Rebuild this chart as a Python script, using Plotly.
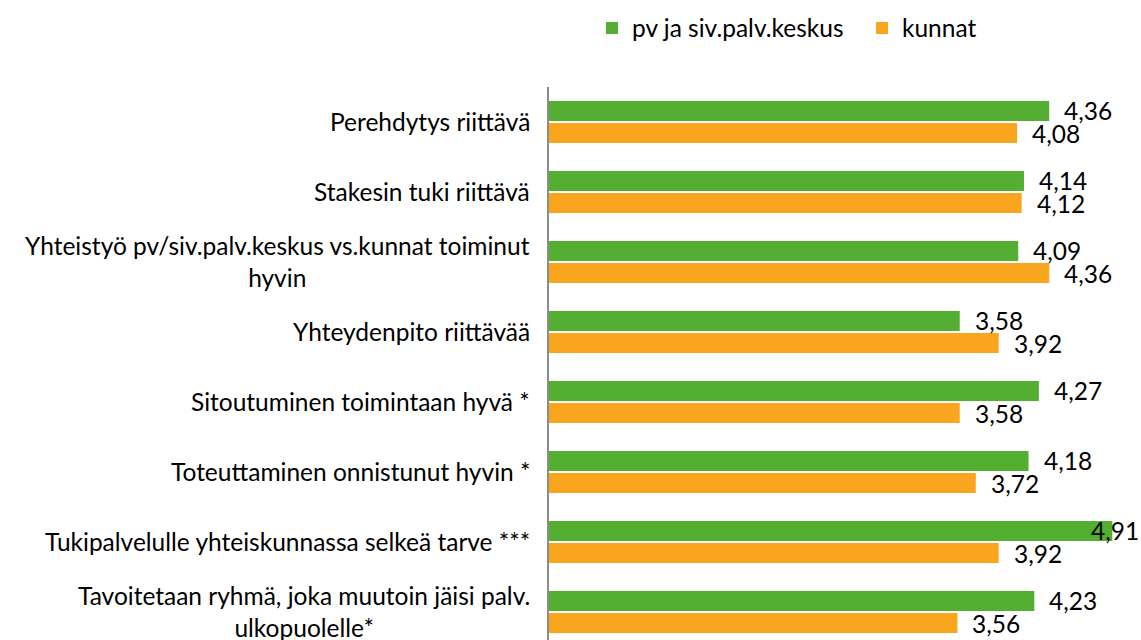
import plotly.graph_objects as go

categories = [
    "Perehdytys riittävä",
    "Stakesin tuki riittävä",
    "Yhteistyö pv/siv.palv.keskus vs.kunnat toiminut<br>hyvin",
    "Yhteydenpito riittävää",
    "Sitoutuminen toimintaan hyvä *",
    "Toteuttaminen onnistunut hyvin *",
    "Tukipalvelulle yhteiskunnassa selkeä tarve ***",
    "Tavoitetaan ryhmä, joka muutoin jäisi palv.<br>ulkopuolelle*",
]
pv = [4.36, 4.14, 4.09, 3.58, 4.27, 4.18, 4.91, 4.23]
kunnat = [4.08, 4.12, 4.36, 3.92, 3.58, 3.72, 3.92, 3.56]

GREEN = "#54AE32"
ORANGE = "#F9A61E"
FONT = "Lato"
FS = 24.5
XMAX = 5.16
PLOT_W = 1141 - 549

fig = go.Figure()
fig.add_trace(go.Bar(y=categories, x=pv, orientation="h", name="pv ja siv.palv.keskus",
                     marker=dict(color=GREEN, line=dict(width=0))))
fig.add_trace(go.Bar(y=categories, x=kunnat, orientation="h", name="kunnat",
                     marker=dict(color=ORANGE, line=dict(width=0))))

# category labels, centred multi-line like the original
for c in categories:
    fig.add_annotation(x=0, xref="paper", y=c, yref="y", text=c, showarrow=False,
                       xanchor="right", align="center", xshift=-17, yshift=1,
                       font=dict(family=FONT, size=FS, color="black"))

# value labels (pushed back inside the chart when they would run off the edge)
for vals, shift in ((pv, 11.6), (kunnat, -11.6)):
    for c, v in zip(categories, vals):
        lab = f"{v:.2f}".replace(".", ",")
        if v / XMAX * PLOT_W + 14 + 50 > PLOT_W:
            fig.add_annotation(x=1, xref="paper", y=c, yref="y", text=lab, showarrow=False,
                               xanchor="right", yshift=shift,
                               font=dict(family=FONT, size=FS, color="black"))
        else:
            fig.add_annotation(x=v, y=c, text=lab, showarrow=False, xanchor="left",
                               xshift=13, yshift=shift,
                               font=dict(family=FONT, size=FS, color="black"))

fig.update_layout(
    width=1141, height=640,
    margin=dict(l=549, r=0, t=87, b=0),
    paper_bgcolor="white", plot_bgcolor="white",
    barmode="group", bargap=0.37, bargroupgap=0.1,
    font=dict(family=FONT, size=FS, color="black"),
    legend=dict(orientation="h", xref="container", yref="container",
                x=592 / 1141, y=1 - 28 / 640, xanchor="left", yanchor="middle",
                entrywidth=225, font=dict(family=FONT, size=FS)),
    xaxis=dict(range=[0, XMAX], visible=False, fixedrange=True),
    yaxis=dict(range=[len(categories) - 0.6, -0.5], showticklabels=False,
               showline=True, linecolor="#8c8c8c", linewidth=2, ticks="", showgrid=False),
)

fig.write_html("out.html", config={"displayModeBar": False},
               post_script="document.body.style.margin='0';")
